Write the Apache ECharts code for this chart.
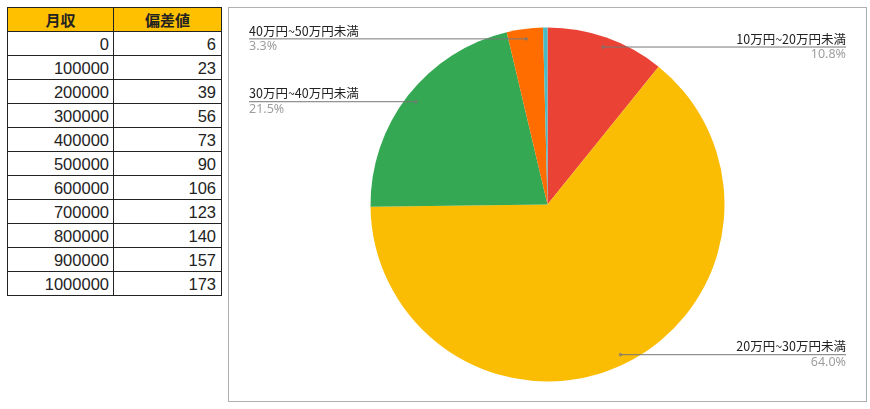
<!DOCTYPE html>
<html>
<head>
<meta charset="utf-8">
<script src="https://cdn.jsdelivr.net/npm/echarts@6/dist/echarts.min.js"></script>
<style>
html,body{margin:0;padding:0;background:#fff;width:870px;height:409px;overflow:hidden;}
#tbl{position:absolute;left:7px;top:7px;border-collapse:collapse;font-family:"Liberation Sans",Arial,sans-serif;}
#tbl td,#tbl th{border:1px solid #222;height:24px;padding:0;box-sizing:border-box;}
#tbl th{background:#FFC000;font-family:"Noto Sans CJK JP",sans-serif;font-weight:bold;font-size:15px;color:#222;text-align:center;line-height:22px;}
#tbl td{font-size:16.5px;color:#222;text-align:right;padding-right:4px;line-height:22px;}
#chart{position:absolute;left:228px;top:7px;width:637px;height:393px;border:1px solid #b0b0b0;}
</style>
</head>
<body>
<table id="tbl"><thead><tr id="hdr"></tr></thead><tbody id="tb"></tbody></table>
<div id="chart"></div>
<script>
// ---- table data ----
const tableHeaders = ['月収', '偏差値'];
const monthlyIncome = [0, 100000, 200000, 300000, 400000, 500000, 600000, 700000, 800000, 900000, 1000000];
const deviationValue = [6, 23, 39, 56, 73, 90, 106, 123, 140, 157, 173];

// ---- pie data ----
const pieCategories = ['10万円~20万円未満', '20万円~30万円未満', '30万円~40万円未満', '40万円~50万円未満', '50万円以上'];
const pieValues = [10.8, 64.0, 21.5, 3.3, 0.4];
const pieColors = ['#EA4335', '#FBBC04', '#34A853', '#FF6D01', '#46BDC6'];
const showLabel = [true, true, true, true, false];

// build table
const hdr = document.getElementById('hdr');
tableHeaders.forEach((h, i) => {
  const th = document.createElement('th');
  th.textContent = h;
  th.style.width = (i === 0 ? 106 : 108) + 'px';
  hdr.appendChild(th);
});
const tb = document.getElementById('tb');
monthlyIncome.forEach((m, i) => {
  const tr = document.createElement('tr');
  const a = document.createElement('td'); a.textContent = String(m);
  const b = document.createElement('td'); b.textContent = String(deviationValue[i]);
  b.style.paddingRight = '5px';
  tr.appendChild(a); tr.appendChild(b);
  tb.appendChild(tr);
});

// build chart
const chart = echarts.init(document.getElementById('chart'), null, {renderer: 'canvas'});
const INSET = 10;   // leader line starts this far inside the slice edge
const DOT_R = 1.3;  // small dot at the leader start

function innerPoint(dataIndex, fallbackPt) {
  try {
    const lay = chart.getModel().getSeriesByIndex(1).getData().getItemLayout(dataIndex);
    const mid = (lay.startAngle + lay.endAngle) / 2;
    const R = lay.r - INSET;
    return [lay.cx + Math.cos(mid) * R, lay.cy + Math.sin(mid) * R];
  } catch (e) {
    const cx = chart.getWidth() / 2, cy = chart.getHeight() / 2;
    const dx = fallbackPt[0] - cx, dy = fallbackPt[1] - cy;
    const d = Math.sqrt(dx * dx + dy * dy);
    return [cx + dx / d * (d - INSET), cy + dy / d * (d - INSET)];
  }
}

const baseSeries = {
  type: 'pie',
  radius: 177,
  center: ['50%', '50%'],
  startAngle: 90,
  clockwise: true,
  avoidLabelOverlap: false,
  emphasis: {disabled: true},
  silent: true
};

chart.setOption({
  animation: false,
  series: [
    Object.assign({}, baseSeries, {
      z: 1,
      itemStyle: {borderWidth: 0},
      label: {show: false},
      labelLine: {show: false},
      data: pieCategories.map((c, i) => ({name: c, value: pieValues[i], itemStyle: {color: pieColors[i]}}))
    }),
    Object.assign({}, baseSeries, {
      z: 5,
      itemStyle: {color: 'rgba(0,0,0,0)', borderWidth: 0},
      label: {
        position: 'outside',
        alignTo: 'edge',
        edgeDistance: 20,
        formatter: p => '{n|' + p.name + '}\n{p|' + p.value.toFixed(1) + '%}',
        rich: {
          n: {fontFamily: '"Noto Sans CJK JP", sans-serif', fontSize: 12.5, color: '#222', lineHeight: 15, padding: [0, 0, 1, 0]},
          p: {fontFamily: '"Noto Sans", "Noto Sans CJK JP", sans-serif', fontSize: 12.5, color: '#9e9e9e', lineHeight: 15}
        }
      },
      labelLine: {
        show: true,
        length: 0,
        length2: 10,
        minTurnAngle: 0,
        lineStyle: {color: '#777', width: 1}
      },
      labelLayout: function (p) {
        const pts = p.labelLinePoints;
        if (!pts || pts.length < 2) return {};
        const r = p.labelRect;
        const ip = innerPoint(p.dataIndex, pts[0]);
        const isLeft = (r.x + r.width / 2) < ip[0];
        const outerX = isLeft ? r.x : r.x + r.width;
        const line = [];
        for (let k = 0; k <= 8; k++) {
          const a = k / 8 * Math.PI * 2;
          line.push([ip[0] + Math.cos(a) * DOT_R, ip[1] + Math.sin(a) * DOT_R]);
        }
        line.push([ip[0], ip[1]]);
        line.push([outerX, ip[1]]);
        return {y: ip[1], labelLinePoints: line};
      },
      data: pieCategories.map((c, i) => ({
        name: c,
        value: pieValues[i],
        label: {show: showLabel[i]},
        labelLine: {show: showLabel[i]}
      }))
    })
  ]
});
</script>
</body>
</html>
